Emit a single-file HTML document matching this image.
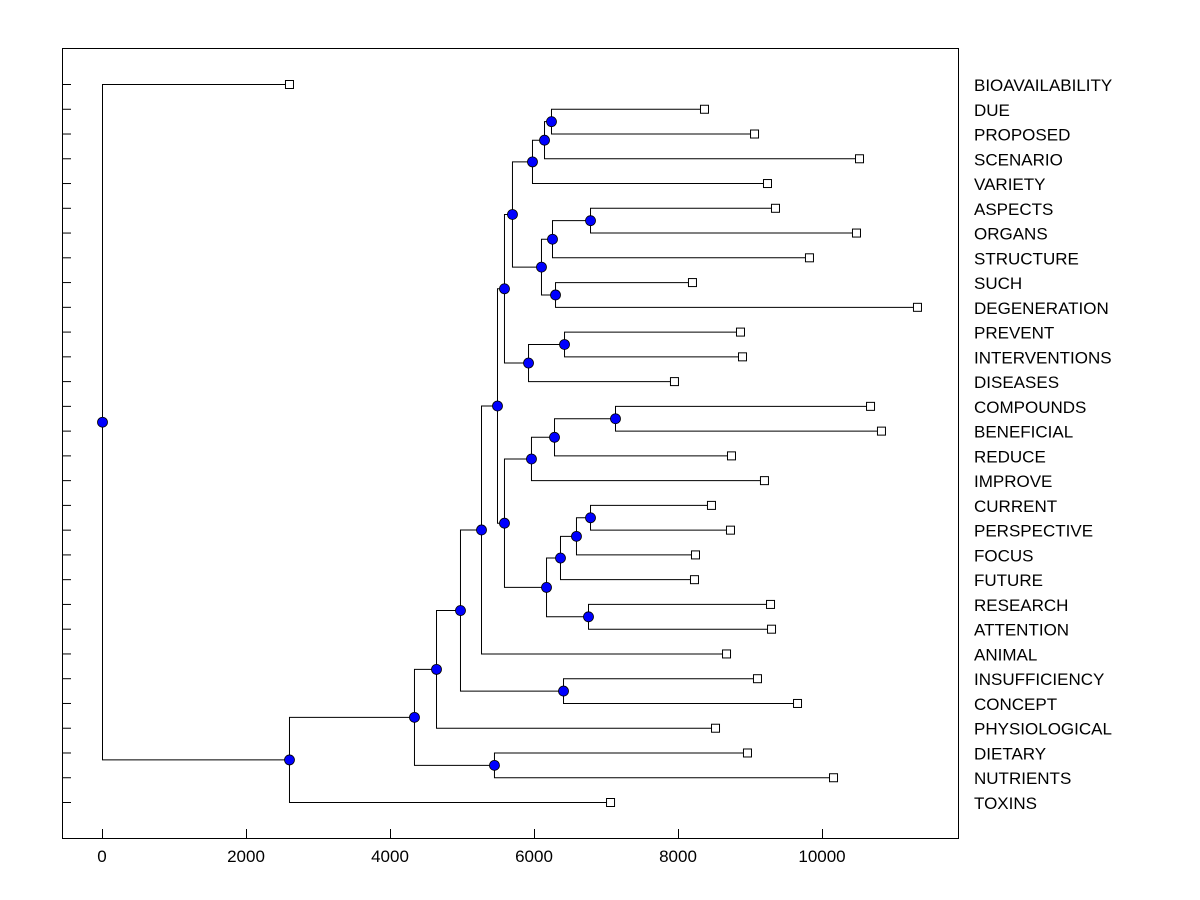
<!DOCTYPE html>
<html><head><meta charset="utf-8"><style>
body{margin:0;background:#fff}
svg{display:block}
text{font-family:"Liberation Sans",Arial,sans-serif;font-size:17px;fill:#000}
</style></head><body>
<svg id="chart" width="1200" height="900" xmlns="http://www.w3.org/2000/svg">
<rect x="62.5" y="48.5" width="896" height="790" fill="none" stroke="#000" stroke-width="1"/>
<g id="marks"></g>
</svg>
<script>
const leaves = ["BIOAVAILABILITY","DUE","PROPOSED","SCENARIO","VARIETY","ASPECTS","ORGANS","STRUCTURE","SUCH","DEGENERATION","PREVENT","INTERVENTIONS","DISEASES","COMPOUNDS","BENEFICIAL","REDUCE","IMPROVE","CURRENT","PERSPECTIVE","FOCUS","FUTURE","RESEARCH","ATTENTION","ANIMAL","INSUFFICIENCY","CONCEPT","PHYSIOLOGICAL","DIETARY","NUTRIENTS","TOXINS"];
const leafValues = [2597,8361,9056,10514,9236,9347,10472,9819,8194,11319,8861,8889,7944,10667,10819,8736,9194,8458,8722,8236,8222,9278,9292,8667,9097,9653,8514,8958,10153,7056];
// merges: [childA, childB, height]; leaves are names, nodes are "n<i>"
const merges = [
 ["DUE","PROPOSED",6236],["n0","SCENARIO",6139],["n1","VARIETY",5972],
 ["ASPECTS","ORGANS",6778],["n3","STRUCTURE",6250],["SUCH","DEGENERATION",6292],
 ["n4","n5",6097],["n2","n6",5694],["PREVENT","INTERVENTIONS",6417],
 ["n8","DISEASES",5917],["n7","n9",5583],["COMPOUNDS","BENEFICIAL",7125],
 ["n11","REDUCE",6278],["n12","IMPROVE",5958],["CURRENT","PERSPECTIVE",6778],
 ["n14","FOCUS",6583],["n15","FUTURE",6361],["RESEARCH","ATTENTION",6750],
 ["n16","n17",6167],["n13","n18",5583],["n10","n19",5486],["n20","ANIMAL",5264],
 ["INSUFFICIENCY","CONCEPT",6403],["n21","n22",4972],["n23","PHYSIOLOGICAL",4639],
 ["DIETARY","NUTRIENTS",5444],["n24","n25",4333],["n26","TOXINS",2597],
 ["BIOAVAILABILITY","n27",0]
];
const xTicks = [0,2000,4000,6000,8000,10000];

const NS="http://www.w3.org/2000/svg";
const g=document.getElementById('marks');
const xs=v=>102+v*0.072;
const ys=i=>84+i*(802-84)/29;
function mk(t,a){const e=document.createElementNS(NS,t);for(const k in a)e.setAttribute(k,a[k]);g.appendChild(e);return e;}
const pos={};
leaves.forEach((n,i)=>{pos[n]={x:xs(leafValues[i]),y:ys(i)};});
leaves.forEach((n,i)=>{
 const t=mk('line',{x1:62,x2:71,y1:ys(i)+0.5,y2:ys(i)+0.5,stroke:'#000'});
 
 
 const l=mk('text',{x:974,y:ys(i)+7});
 
 
 l.textContent=n;
});
xTicks.forEach(v=>{
 const t=mk('line',{x1:xs(v)+0.5,x2:xs(v)+0.5,y1:829,y2:838,stroke:'#000'});
 
 
 const l=mk('text',{x:xs(v),y:862,'text-anchor':'middle'});
 
 
 l.textContent=v;
});
const nodes=[];
merges.forEach((m,i)=>{
 const a=pos[m[0]],b=pos[m[1]],x=xs(m[2]);
 const p=`M${a.x},${a.y+0.5}H${x+0.5}V${b.y+0.5}H${b.x}`;
 const e=mk('path',{d:p,fill:'none',stroke:'#000','stroke-width':1});
 
 
 pos['n'+i]={x:x,y:(a.y+b.y)/2};
 nodes.push(pos['n'+i]);
});
leaves.forEach((n,i)=>{
 const r=mk('rect',{x:pos[n].x-3.5,y:pos[n].y-3.5,width:8,height:8,fill:'#fff',stroke:'#000'});
 
 
});
nodes.forEach(p=>{
 const c=mk('circle',{cx:p.x+0.5,cy:p.y+0.5,r:5,fill:'#0000ff',stroke:'#000','stroke-width':0.8});
 
 
});
</script>
</body></html>
